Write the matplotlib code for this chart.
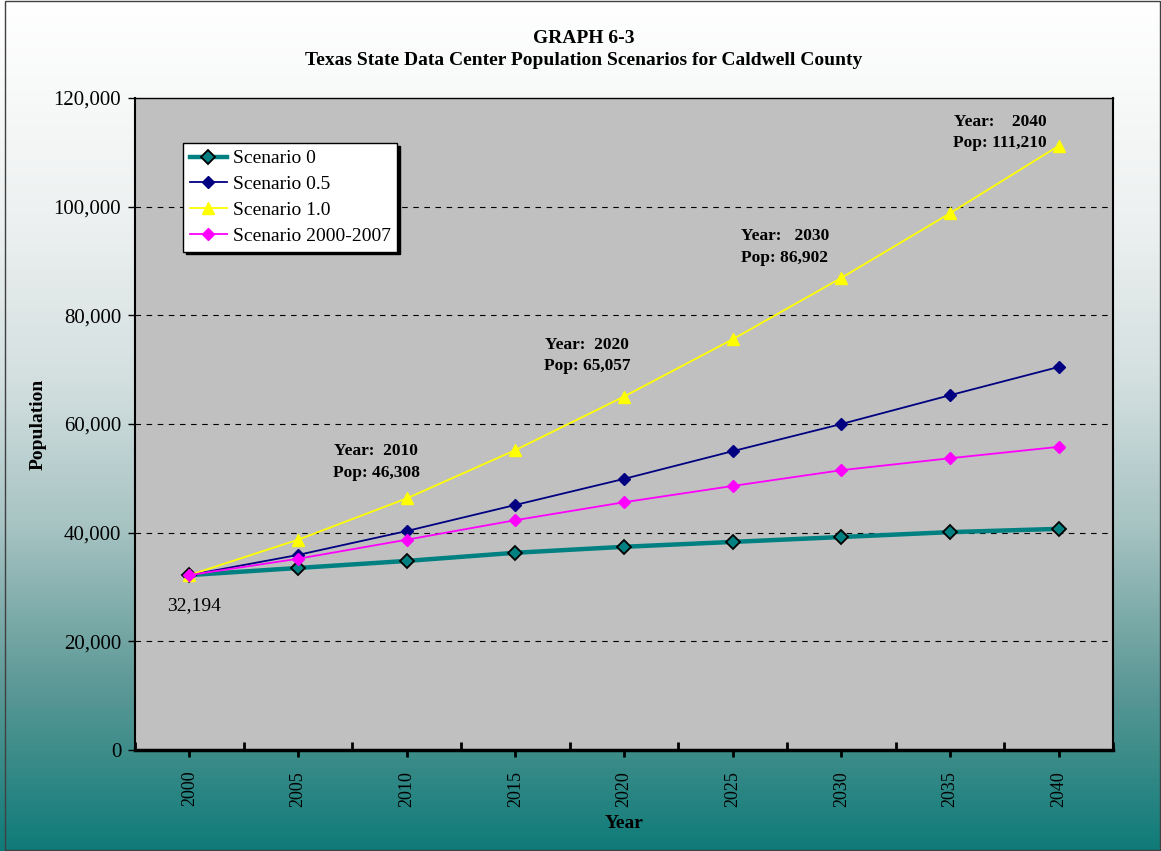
import numpy as np
import matplotlib
matplotlib.use('Agg')
import matplotlib.pyplot as plt
from matplotlib.colors import LinearSegmentedColormap
from matplotlib.patches import Rectangle
from matplotlib.ticker import FuncFormatter, FixedLocator

plt.rcParams['font.family'] = ['Liberation Serif', 'DejaVu Serif']

years = ['2000', '2005', '2010', '2015', '2020', '2025', '2030', '2035', '2040']
scenario_0 = [32194, 33500, 34800, 36300, 37400, 38300, 39200, 40100, 40700]
scenario_05 = [32194, 35900, 40300, 45100, 49900, 55000, 60000, 65300, 70500]
scenario_10 = [32194, 38700, 46308, 55200, 65057, 75600, 86902, 98800, 111210]
scenario_0007 = [32194, 35200, 38700, 42300, 45600, 48600, 51500, 53700, 55800]

# callouts on the Scenario 1.0 line: (category index, label)
callouts = [(2, 'Year:  2010\nPop: 46,308'),
            (4, 'Year:  2020\nPop: 65,057'),
            (6, 'Year:   2030\nPop: 86,902'),
            (8, 'Year:    2040\nPop: 111,210')]
# label placement relative to the point (x in categories, y in people)
callout_shift = [(-0.28, 6700), (-0.34, 7600), (-0.52, 5700), (-0.54, 2500)]

fig = plt.figure(figsize=(11.61, 8.51), dpi=100)

# gradient background
bg = fig.add_axes([0, 0, 1, 1], zorder=-10)
cmap = LinearSegmentedColormap.from_list(
    'bg', [(0.0, '#ffffff'), (0.25, '#eef1f1'), (0.45, '#d3dfdf'),
           (0.62, '#a6c3c2'), (0.80, '#5f9a98'), (1.0, '#0f7b78')])
grad = np.linspace(0, 1, 256).reshape(-1, 1)
bg.imshow(grad, aspect='auto', cmap=cmap, extent=[0, 1, 0, 1], origin='upper')
bg.set_xlim(0, 1)
bg.set_ylim(0, 1)
bg.axis('off')
bg.add_patch(Rectangle((0.004, 0.001), 0.995, 0.998, fill=False,
                       edgecolor='#404040', linewidth=1.0))

ax = fig.add_axes([0.1163, 0.1187, 0.8424, 0.7661])
ax.set_facecolor('#c0c0c0')

x = np.arange(len(years))
ax.plot(x, scenario_0, color='#008080', lw=3.2, marker='D', ms=7,
        mfc='#008080', mec='black', mew=1.3, label='Scenario 0', zorder=3)
ax.plot(x, scenario_05, color='#000080', lw=1.3, marker='D', ms=6,
        mfc='#000080', mec='#000080', label='Scenario 0.5', zorder=4)
ax.plot(x, scenario_10, color='#ffff00', lw=1.3, marker='^', ms=8,
        mfc='#ffff00', mec='#ffff00', label='Scenario 1.0', zorder=5)
ax.plot(x, scenario_0007, color='#ff00ff', lw=1.3, marker='D', ms=6,
        mfc='#ff00ff', mec='#ff00ff', label='Scenario 2000-2007', zorder=6)

ax.set_xlim(-0.5, len(years) - 0.5)
ax.set_ylim(0, 120000)
ax.set_yticks(np.arange(0, 120001, 20000))
ax.yaxis.set_major_formatter(FuncFormatter(lambda v, p: f'{int(v):,}'))
ax.set_xticks(x)
ax.set_xticklabels(years, rotation=90, fontsize=13)
ax.xaxis.set_minor_locator(FixedLocator(np.arange(-0.5, len(years), 1)))
ax.tick_params(axis='x', which='major', direction='out', length=5, width=2, pad=10)
ax.tick_params(axis='x', which='minor', direction='in', length=6, width=2)
ax.tick_params(axis='y', direction='out', length=5, width=1, labelsize=15, pad=5)

for v in range(20000, 120000, 20000):
    ax.axhline(v, color='black', lw=0.8, ls=(0, (5, 5)), zorder=1)

ax.spines['bottom'].set_linewidth(2.5)
ax.spines['left'].set_linewidth(1.5)
ax.spines['top'].set_linewidth(1.0)
ax.spines['right'].set_linewidth(1.5)

ax.set_xlabel('Year', fontsize=14, fontweight='bold', labelpad=6)
ax.set_ylabel('Population', fontsize=14, fontweight='bold', labelpad=5)

for (i, txt), (dx, dy) in zip(callouts, callout_shift):
    ax.annotate(txt, (x[i], scenario_10[i]), xytext=(x[i] + dx, scenario_10[i] + dy),
                textcoords='data', fontsize=12.5, fontweight='bold',
                ha='center', va='center', linespacing=1.45)

ax.annotate(f'{scenario_0[0]:,}', (x[0], scenario_0[0]), xytext=(3, -22),
            textcoords='offset points', fontsize=14, ha='center', va='center')

fig.text(0.503, 0.955, 'GRAPH 6-3', fontsize=14, fontweight='bold', ha='center', va='center')
fig.text(0.503, 0.929, 'Texas State Data Center Population Scenarios for Caldwell County',
         fontsize=14, fontweight='bold', ha='center', va='center')

leg = ax.legend(loc='upper left', bbox_to_anchor=(0.049, 0.931), fontsize=14,
                frameon=True, fancybox=False, shadow={'color': 'black', 'alpha': 1},
                edgecolor='black', framealpha=1, borderpad=0.35, labelspacing=0.42,
                handlelength=1.9, handletextpad=0.3, borderaxespad=0)
leg.get_frame().set_linewidth(1.0)

fig.savefig('out.png', dpi=100)
